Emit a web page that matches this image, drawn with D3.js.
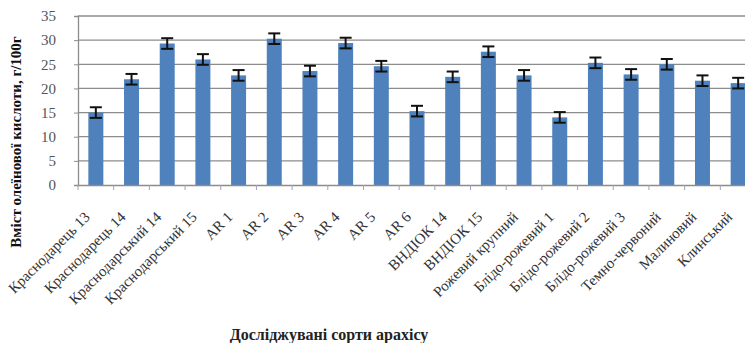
<!DOCTYPE html>
<html><head><meta charset="utf-8">
<script src="https://cdn.jsdelivr.net/npm/d3@7"></script>
<style>body{margin:0;background:#fff}svg{display:block}text{font-family:"Liberation Serif","Times New Roman","DejaVu Serif",serif}</style>
</head><body>
<script>
const categories = ["Краснодарець 13","Краснодарець 14","Краснодарський 14","Краснодарський 15","AR 1","AR 2","AR 3","AR 4","AR 5","AR 6","ВНДІОК 14","ВНДІОК 15","Рожевий крупний","Блідо-рожевий 1","Блідо-рожевий 2","Блідо-рожевий 3","Темно-червоний","Малиновий","Клинський"];
const values = [15.0,21.9,29.3,26.0,22.7,30.3,23.6,29.4,24.6,15.3,22.4,27.6,22.7,14.0,25.3,22.9,25.0,21.6,21.1];
const errors = [1.1,1.1,1.1,1.1,1.1,1.1,1.1,1.1,1.1,1.1,1.1,1.1,1.1,1.1,1.1,1.1,1.1,1.1,1.1];
const yTicks = [0,5,10,15,20,25,30,35];
const yTitle = "Вміст олеїнової кислоти, г/100г";
const xTitle = "Досліджувані сорти арахісу";

const W = 745, H = 343;
const m = {left:78, top:16, bottom:185, right:756};
const svg = d3.select("body").append("svg").attr("width",W).attr("height",H);
const x = d3.scaleBand().domain(categories).range([m.left, m.right]).paddingInner(0.58).paddingOuter(0.29);
const xb = d3.scaleBand().domain(categories).range([m.left, m.right]);
const y = d3.scaleLinear().domain([0,35]).range([m.bottom, m.top]);

// gridlines
svg.append("g").selectAll("line").data(yTicks.filter(d=>d>0)).join("line")
  .attr("x1",m.left).attr("x2",W).attr("y1",d=>y(d)).attr("y2",d=>y(d))
  .attr("stroke","#8c8c8c").attr("stroke-width",1.3);

// y axis
const ya = svg.append("g").attr("transform",`translate(${m.left},0)`)
  .call(d3.axisLeft(y).tickValues(yTicks).tickSize(4).tickPadding(18));
ya.attr("font-family",null);
ya.select(".domain").attr("stroke","#8c8c8c").attr("stroke-width",1.3);
ya.selectAll(".tick line").attr("stroke","#8c8c8c");
ya.selectAll("text").attr("font-size",15).attr("fill","#555");

// bars
svg.append("g").selectAll("rect").data(values).join("rect")
  .attr("x",(d,i)=>x(categories[i])).attr("width",x.bandwidth())
  .attr("y",d=>y(d)).attr("height",d=>y(0)-y(d)).attr("fill","#4f81bd");

// x axis
const xa = svg.append("g").attr("transform",`translate(0,${m.bottom})`)
  .call(d3.axisBottom(xb).tickSize(0).tickFormat(""));
xa.select(".domain").attr("stroke","#8c8c8c").attr("stroke-width",1.3);
svg.append("g").selectAll("line").data(d3.range(categories.length+1)).join("line")
  .attr("x1",i=>m.left+i*xb.step()).attr("x2",i=>m.left+i*xb.step())
  .attr("y1",m.bottom).attr("y2",m.bottom+5).attr("stroke","#a0a0c0").attr("stroke-width",1);

// error bars
const eb = svg.append("g").attr("stroke","#111").attr("stroke-width",2);
values.forEach((v,i)=>{
  const cx = xb(categories[i]) + xb.bandwidth()/2;
  eb.append("line").attr("x1",cx).attr("x2",cx).attr("y1",y(v+errors[i])).attr("y2",y(v-errors[i]));
  eb.append("line").attr("x1",cx-6).attr("x2",cx+6).attr("y1",y(v+errors[i])).attr("y2",y(v+errors[i]));
  eb.append("line").attr("x1",cx-6).attr("x2",cx+6).attr("y1",y(v-errors[i])).attr("y2",y(v-errors[i]));
});

// category labels
svg.append("g").selectAll("text").data(categories).join("text")
  .attr("transform",d=>`translate(${xb(d)+xb.bandwidth()/2-5},${m.bottom+33}) rotate(-45)`)
  .attr("text-anchor","end").attr("font-size",15).attr("fill","#333")
  .text(d=>d);

// titles
svg.append("text").attr("transform",`translate(21,142) rotate(-90)`).attr("text-anchor","middle")
  .attr("font-weight","bold").attr("font-size",15).attr("fill","#111").text(yTitle);
svg.append("text").attr("x",329).attr("y",340).attr("text-anchor","middle")
  .attr("font-weight","bold").attr("font-size",16).attr("fill","#222").text(xTitle);
</script>
</body></html>
